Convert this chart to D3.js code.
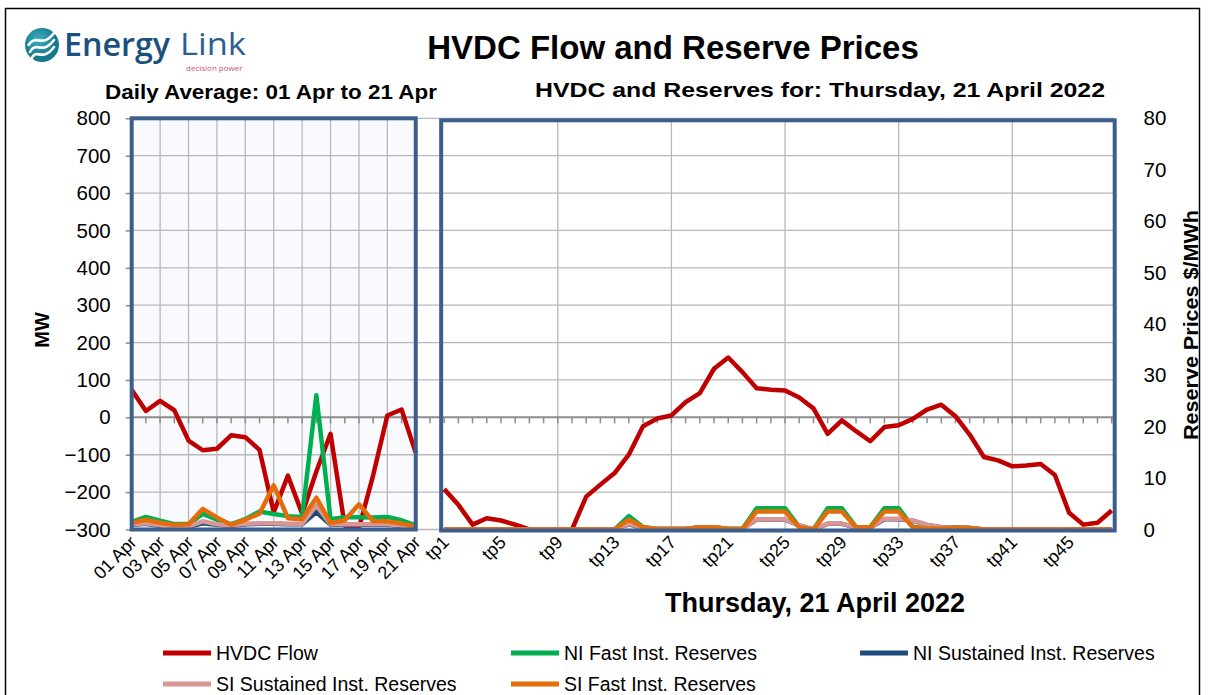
<!DOCTYPE html>
<html>
<head>
<meta charset="utf-8">
<script src="https://cdn.jsdelivr.net/npm/d3@7/dist/d3.min.js"></script>
<style>
  html, body { margin: 0; padding: 0; background: #fff; }
  svg { display: block; font-family: "Liberation Sans", Arial, sans-serif; }
</style>
</head>
<body>
<svg id="chart" width="1208" height="695"></svg>
<script>
/* ---------- data ---------- */
const dates = ['01 Apr','02 Apr','03 Apr','04 Apr','05 Apr','06 Apr','07 Apr','08 Apr','09 Apr','10 Apr',
  '11 Apr','12 Apr','13 Apr','14 Apr','15 Apr','16 Apr','17 Apr','18 Apr','19 Apr','20 Apr','21 Apr'];
const tps = d3.range(1, 49).map(i => 'tp' + i);

// daily averages (MW / $/MWh)
const hvdcDaily    = [74, 17, 44, 19, -62, -88, -84, -48, -53, -87, -254, -156, -258, -145, -44, -290, -296, -155, 5, 21, -95];
const niFastDaily  = [1.5, 2.45, 1.7, 1.05, 1.05, 3.05, 1.9, 1.05, 2.0, 3.5, 3.0, 2.6, 2.45, 26.1, 2.0, 2.4, 2.4, 2.35, 2.45, 1.8, 0.8];
const niSusDaily   = [0.9, 1.1, 0.7, 0.5, 0.5, 1.2, 0.9, 0.7, 1.0, 1.1, 1.1, 1.0, 1.0, 3.4, 0.9, 0.9, 0.9, 0.9, 0.9, 0.7, 0.3];
const siSusDaily   = [1.0, 1.2, 0.8, 0.6, 0.6, 1.6, 1.0, 0.8, 1.1, 1.2, 1.2, 1.1, 1.1, 4.7, 1.0, 1.0, 1.0, 1.0, 1.0, 0.8, 0.4];
const siFastDaily  = [1.3, 1.9, 1.3, 0.9, 1.0, 4.0, 2.35, 0.9, 1.9, 3.1, 8.6, 2.2, 2.0, 6.2, 1.25, 1.8, 4.9, 1.6, 1.6, 1.15, 0.6];

// trading periods, Thursday 21 April 2022
const hvdcTp   = [-192, -234, -287, -270, -276, -287, -300, -300, -300, -300, -212, -180, -149, -100, -24, -3,
  5, 41, 65, 130, 160, 121, 78, 74, 72, 53, 24, -44, -8, -37, -64, -26,
  -21, -4, 21, 34, 3, -46, -106, -115, -131, -129, -125, -154, -255, -287, -282, -249];
const niFastTp = [0, 0, 0, 0, 0, 0, 0, 0, 0, 0, 0, 0, 0, 2.6, 0.5, 0.1,
  0.1, 0.1, 0.45, 0.45, 0.1, 0.1, 4.15, 4.15, 4.15, 0.5, 0, 4.15, 4.15, 0.45, 0.45, 4.15,
  4.15, 0.5, 0.2, 0.2, 0.4, 0.3, 0, 0, 0, 0, 0, 0, 0, 0, 0, 0];
const niSusTp  = [0, 0, 0, 0, 0, 0, 0, 0, 0, 0, 0, 0, 0, 1.0, 0.3, 0.1,
  0.1, 0.1, 0.4, 0.4, 0.1, 0.1, 1.9, 1.9, 1.9, 0.8, 0, 1.1, 1.1, 0.4, 0.4, 2.0,
  2.0, 1.7, 0.9, 0.45, 0.35, 0.3, 0, 0, 0, 0, 0, 0, 0, 0, 0, 0];
const siSusTp  = [0, 0, 0, 0, 0, 0, 0, 0, 0, 0, 0, 0, 0, 1.1, 0.3, 0.1,
  0.1, 0.1, 0.4, 0.4, 0.1, 0.1, 1.95, 1.95, 1.95, 0.8, 0, 1.15, 1.15, 0.4, 0.4, 2.1,
  2.1, 1.75, 0.9, 0.45, 0.35, 0.3, 0, 0, 0, 0, 0, 0, 0, 0, 0, 0];
const siFastTp = [0, 0, 0, 0, 0, 0, 0, 0, 0, 0, 0, 0, 0, 1.95, 0.45, 0.1,
  0.1, 0.1, 0.45, 0.45, 0.1, 0.1, 3.5, 3.5, 3.5, 0.45, 0, 3.5, 3.5, 0.45, 0.45, 3.5,
  3.5, 0.45, 0.2, 0.2, 0.35, 0.3, 0, 0, 0, 0, 0, 0, 0, 0, 0, 0];

const mwTicks = d3.range(-300, 801, 100);
const priceTicks = d3.range(0, 81, 10);
const dateLabels = dates.filter((d, i) => i % 2 === 0);
const tpLabels = tps.filter((d, i) => i % 4 === 0);

const series = [
  { name: 'HVDC Flow',                 color: '#c00000', daily: hvdcDaily,   tp: hvdcTp,   axis: 'L' },
  { name: 'NI Fast Inst. Reserves',    color: '#00b050', daily: niFastDaily, tp: niFastTp, axis: 'R' },
  { name: 'NI Sustained Inst. Reserves', color: '#1f497d', daily: niSusDaily, tp: niSusTp, axis: 'R' },
  { name: 'SI Sustained Inst. Reserves', color: '#da9694', daily: siSusDaily, tp: siSusTp, axis: 'R' },
  { name: 'SI Fast Inst. Reserves',    color: '#e46c0a', daily: siFastDaily, tp: siFastTp, axis: 'R' },
];

/* ---------- scales ---------- */
const cats = [...dates, 'gap', ...tps];
const x = d3.scalePoint().domain(cats).range([131.7, 1111.7]);
const yL = d3.scaleLinear().domain([-300, 800]).range([529.5, 118.3]);
const yR = d3.scaleLinear().domain([0, 80]).range([529.5, 118.3]);

const svg = d3.select('#chart');
const plotL = 131.7, plotR = 1114.5, plotTop = yL(800), plotBot = yL(-300);
const leftBox = { x0: x(dates[0]), x1: x(dates[20]) };
const rightBox = { x0: x('tp1') - 3, x1: x('tp48') + 3 };

// outer frame
svg.append('rect').attr('x', 5.5).attr('y', 8.5).attr('width', 1194).attr('height', 720)
  .attr('fill', '#fff').attr('stroke', '#000').attr('stroke-width', 1.5);

// left panel fill
svg.append('rect').attr('x', leftBox.x0).attr('y', plotTop).attr('width', leftBox.x1 - leftBox.x0)
  .attr('height', plotBot - plotTop).attr('fill', '#f8fafd');

/* ---------- grid ---------- */
const grid = svg.append('g');
mwTicks.filter(v => v !== 0).forEach(v => {
  grid.append('line').attr('x1', plotL).attr('x2', plotR).attr('y1', yL(v)).attr('y2', yL(v))
    .attr('stroke', '#b8b8b8').attr('stroke-width', 1.3);
});
dates.forEach((d, i) => {
  if (i % 2 === 0 && i > 0 && i < 20) {
    grid.append('line').attr('x1', x(d)).attr('x2', x(d)).attr('y1', plotTop).attr('y2', plotBot)
      .attr('stroke', '#b8b8b8').attr('stroke-width', 1.3);
  }
});
tps.forEach((d, i) => {
  if (i % 8 === 0 && i > 0) {
    grid.append('line').attr('x1', x(d)).attr('x2', x(d)).attr('y1', plotTop).attr('y2', plotBot)
      .attr('stroke', '#b8b8b8').attr('stroke-width', 1.3);
  }
});
// zero line with category ticks
grid.append('line').attr('x1', plotL).attr('x2', plotR).attr('y1', yL(0)).attr('y2', yL(0))
  .attr('stroke', '#8c8c8c').attr('stroke-width', 2);
cats.forEach(c => {
  grid.append('line').attr('x1', x(c)).attr('x2', x(c)).attr('y1', yL(0)).attr('y2', yL(0) + 6)
    .attr('stroke', '#8c8c8c').attr('stroke-width', 1.5);
});

/* ---------- axes ---------- */
const axL = svg.append('g').attr('transform', `translate(${plotL},0)`)
  .call(d3.axisLeft(yL).tickValues(mwTicks).tickSize(6).tickPadding(15));
axL.select('.domain').remove();
axL.selectAll('line').attr('stroke', '#8c8c8c').attr('stroke-width', 1.5);
axL.selectAll('text').attr('font-size', 20.5).attr('fill', '#000')
  .attr('font-family', '"Liberation Sans", Arial, sans-serif');

const axR = svg.append('g').attr('transform', `translate(${plotR},0)`)
  .call(d3.axisRight(yR).tickValues(priceTicks).tickSize(0).tickPadding(29));
axR.select('.domain').remove();
axR.selectAll('text').attr('font-size', 20.5).attr('fill', '#000')
  .attr('font-family', '"Liberation Sans", Arial, sans-serif');

// category labels
const xl = svg.append('g');
[...dateLabels, ...tpLabels].forEach(c => {
  xl.append('text').attr('transform', `translate(${x(c) + 6},${plotBot + 14}) rotate(-45)`)
    .attr('text-anchor', 'end').attr('font-size', 18).attr('fill', '#000').text(c);
});

/* ---------- series ---------- */
const line = (yScale) => d3.line().x(d => x(d[0])).y(d => yScale(d[1]));
series.forEach(s => {
  const ys = s.axis === 'L' ? yL : yR;
  svg.append('path').attr('d', line(ys)(dates.map((d, i) => [d, s.daily[i]])))
    .attr('fill', 'none').attr('stroke', s.color).attr('stroke-width', 4.5)
    .attr('stroke-linejoin', 'round');
  svg.append('path').attr('d', line(ys)(tps.map((d, i) => [d, s.tp[i]])))
    .attr('fill', 'none').attr('stroke', s.color).attr('stroke-width', 4.5)
    .attr('stroke-linejoin', 'round');
});

// panel borders
svg.append('rect').attr('x', leftBox.x0).attr('y', plotTop).attr('width', leftBox.x1 - leftBox.x0)
  .attr('height', plotBot - plotTop).attr('fill', 'none').attr('stroke', '#3b5e8c').attr('stroke-width', 4);
svg.append('rect').attr('x', rightBox.x0).attr('y', plotTop + 2).attr('width', rightBox.x1 - rightBox.x0)
  .attr('height', plotBot - plotTop - 1).attr('fill', 'none').attr('stroke', '#3b5e8c').attr('stroke-width', 4);

/* ---------- titles ---------- */
svg.append('text').attr('x', 673).attr('y', 59).attr('text-anchor', 'middle')
  .attr('font-size', 33).attr('font-weight', 'bold').text('HVDC Flow and Reserve Prices');
svg.append('text').attr('x', 105).attr('y', 99).attr('font-size', 20).attr('font-weight', 'bold')
  .attr('textLength', 332).attr('lengthAdjust', 'spacingAndGlyphs').text('Daily Average: 01 Apr to 21 Apr');
svg.append('text').attr('x', 535).attr('y', 97).attr('font-size', 21).attr('font-weight', 'bold')
  .attr('textLength', 570).attr('lengthAdjust', 'spacingAndGlyphs')
  .text('HVDC and Reserves for: Thursday, 21 April 2022');
svg.append('text').attr('x', 815).attr('y', 612).attr('text-anchor', 'middle')
  .attr('font-size', 27).attr('font-weight', 'bold').text('Thursday, 21 April 2022');
svg.append('text').attr('transform', 'translate(49,330) rotate(-90)').attr('text-anchor', 'middle')
  .attr('font-size', 20).attr('font-weight', 'bold').text('MW');
svg.append('text').attr('transform', 'translate(1198,325) rotate(-90)').attr('text-anchor', 'middle')
  .attr('font-size', 21).attr('font-weight', 'bold').attr('textLength', 230)
  .attr('lengthAdjust', 'spacingAndGlyphs').text('Reserve Prices $/MWh');

/* ---------- legend ---------- */
const legendPos = [[163, 653], [511, 653], [860, 653], [163, 684], [511, 684]];
series.forEach((s, i) => {
  const [lx, ly] = legendPos[i];
  svg.append('line').attr('x1', lx).attr('x2', lx + 48).attr('y1', ly).attr('y2', ly)
    .attr('stroke', s.color).attr('stroke-width', 5);
  svg.append('text').attr('x', lx + 53).attr('y', ly + 7).attr('font-size', 19.5).text(s.name);
});

/* ---------- logo ---------- */
const logo = svg.append('g');
const grad = svg.append('defs').append('radialGradient').attr('id', 'lg').attr('cx', '40%').attr('cy', '35%');
grad.append('stop').attr('offset', '0%').attr('stop-color', '#3fb0c0');
grad.append('stop').attr('offset', '100%').attr('stop-color', '#14788e');
logo.append('circle').attr('cx', 42).attr('cy', 45).attr('r', 17).attr('fill', 'url(#lg)');
[-7, 0, 7].forEach(o => {
  logo.append('path')
    .attr('d', `M${30 + o * 0.2},${52 + o} C36,${40 + o} 42,${56 + o} 54,${40 + o}`)
    .attr('fill', 'none').attr('stroke', '#fff').attr('stroke-width', 2.6).attr('stroke-linecap', 'round');
});
logo.append('text').attr('x', 64).attr('y', 56).attr('font-family', '"Open Sans", sans-serif')
  .attr('font-size', 33).attr('font-weight', 600).attr('fill', '#1b4f7e')
  .attr('textLength', 106).attr('lengthAdjust', 'spacingAndGlyphs').text('Energy');
logo.append('text').attr('x', 180).attr('y', 55).attr('font-family', '"Open Sans", sans-serif')
  .attr('font-size', 31).attr('fill', '#2b5e92')
  .attr('textLength', 66).attr('lengthAdjust', 'spacingAndGlyphs').text('Link');
logo.append('text').attr('x', 186).attr('y', 71).attr('font-family', '"Open Sans", sans-serif')
  .attr('font-size', 8).attr('fill', '#c8507a').text('decision power');
</script>
</body>
</html>
